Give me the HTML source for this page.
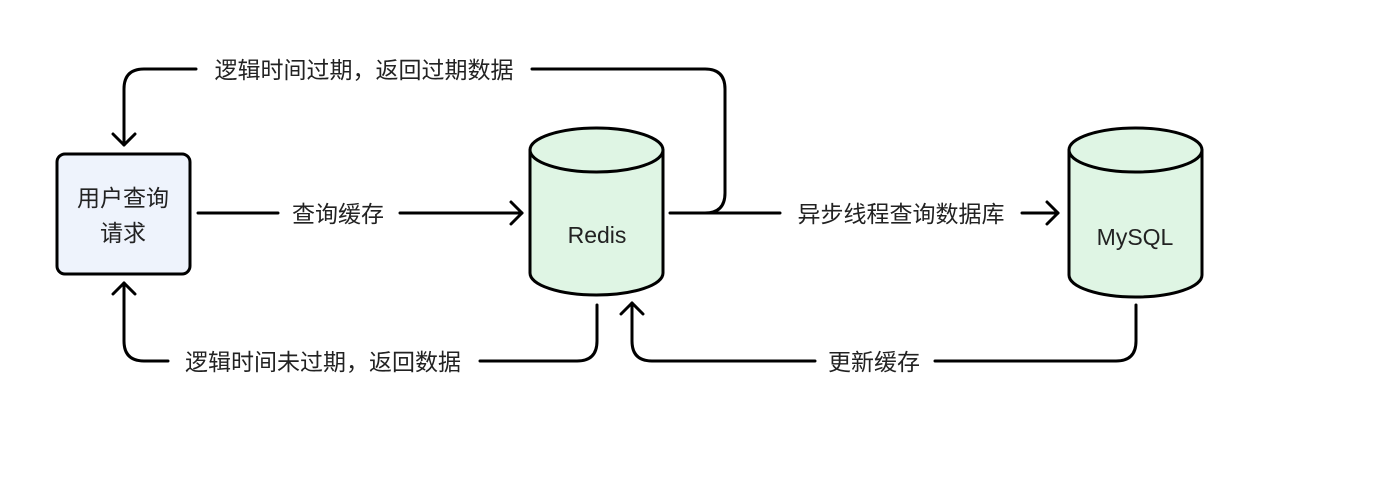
<!DOCTYPE html>
<html><head><meta charset="utf-8"><style>
body{margin:0;background:#fff;}
svg text{font-family:"Liberation Sans","Noto Sans CJK SC",sans-serif;font-size:23px;fill:#222;}
</style></head><body>
<svg width="1379" height="489" xmlns="http://www.w3.org/2000/svg">
<g fill="none" stroke="#000" stroke-width="3" stroke-linecap="round" stroke-linejoin="round">
<rect x="57" y="154" width="133" height="120" rx="8" fill="#eef3fc"/>
<path d="M530,150 L530,273 A66.5,22 0 0 0 663,273 L663,150" fill="#dff5e4"/>
<ellipse cx="596.5" cy="150" rx="66.5" ry="22" fill="#dff5e4"/>
<path d="M1069,150 L1069,275 A66.5,22 0 0 0 1202,275 L1202,150" fill="#dff5e4"/>
<ellipse cx="1135.5" cy="150" rx="66.5" ry="22" fill="#dff5e4"/>
<path d="M198,213 L278,213 M400,213 L522,213"/>
<path d="M511,202 L522,213 L511,224"/>
<path d="M670,213 L780,213 M1022,213 L1058,213"/>
<path d="M1047,202 L1058,213 L1047,224"/>
<path d="M705,213 Q725,213 725,193 L725,89 Q725,69 705,69 L532,69"/>
<path d="M196,69 L144,69 Q124,69 124,89 L124,145"/>
<path d="M113,134 L124,145 L135,134"/>
<path d="M124,283 L124,341 Q124,361 144,361 L168,361"/>
<path d="M113,294 L124,283 L135,294"/>
<path d="M480,361 L577,361 Q597,361 597,341 L597,305"/>
<path d="M1136,305 L1136,341 Q1136,361 1116,361 L935,361"/>
<path d="M815,361 L652,361 Q632,361 632,341 L632,303"/>
<path d="M621,314 L632,303 L643,314"/>
</g>
<text x="123" y="206" text-anchor="middle">用户查询</text>
<text x="123" y="241" text-anchor="middle">请求</text>
<text x="597" y="243" text-anchor="middle">Redis</text>
<text x="1135" y="245" text-anchor="middle">MySQL</text>
<text x="338" y="222" text-anchor="middle">查询缓存</text>
<text x="901" y="222" text-anchor="middle">异步线程查询数据库</text>
<text x="364" y="78" text-anchor="middle">逻辑时间过期，返回过期数据</text>
<text x="323" y="370" text-anchor="middle">逻辑时间未过期，返回数据</text>
<text x="874" y="370" text-anchor="middle">更新缓存</text>
</svg>
</body></html>
